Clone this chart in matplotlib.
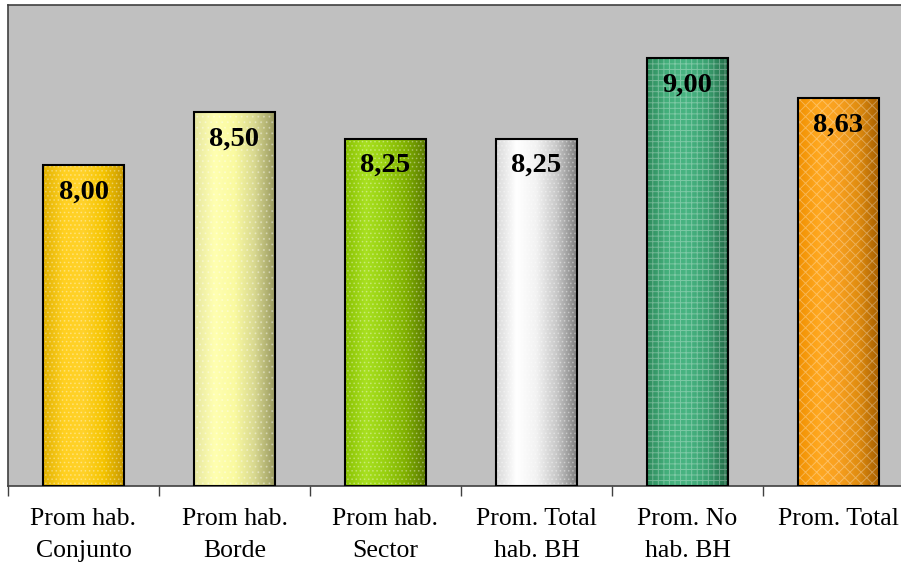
import numpy as np
import matplotlib.pyplot as plt
from matplotlib.colors import LinearSegmentedColormap

categorias = ["Prom hab.\nConjunto", "Prom hab.\nBorde", "Prom hab.\nSector",
              "Prom. Total\nhab. BH", "Prom. No\nhab. BH", "Prom. Total"]
valores = [8.00, 8.50, 8.25, 8.25, 9.00, 8.63]
etiquetas = ["8,00", "8,50", "8,25", "8,25", "9,00", "8,63"]
base = 5.0

# degradados horizontales de cada barra (izquierda -> derecha)
degradados = [
    ["#e0b000", "#ffd020", "#ffd22a", "#f5c400", "#c89a00"],
    ["#e6e6a0", "#ffffb0", "#fafaa0", "#d8d890", "#9a9a60"],
    ["#88c000", "#a8e020", "#98d010", "#80b000", "#5a7a00"],
    ["#d8d8d8", "#ffffff", "#f2f2f2", "#c8c8c8", "#808080"],
    ["#2e8a5c", "#44b07c", "#48b482", "#3aa070", "#226a46"],
    ["#f09000", "#ffa820", "#f8a020", "#e08c10", "#a86000"],
]
tramas = ["....", "...", "....", "....", "+++", "xxx"]

fig = plt.figure(figsize=(9.01, 5.64), dpi=100)
ax = fig.add_axes([8 / 901, 78 / 564, 906 / 901, 481 / 564])
ax.set_facecolor("#c0c0c0")

x = np.arange(len(valores))
alturas = [v - base for v in valores]
ancho = 0.53
barras = ax.bar(x, alturas, width=ancho, bottom=base, color="none", edgecolor="none", zorder=2)

for i, b in enumerate(barras):
    cmap = LinearSegmentedColormap.from_list("g%d" % i, degradados[i])
    grad = np.linspace(0, 1, 200).reshape(1, -1)
    im = ax.imshow(grad, cmap=cmap, aspect="auto", zorder=2,
                   extent=[b.get_x(), b.get_x() + b.get_width(), base, valores[i]])
    im.set_clip_path(b)

plt.rcParams["hatch.linewidth"] = 0.7
for i in range(len(valores)):
    ax.bar(x[i], alturas[i], width=ancho, bottom=base, color="none",
           edgecolor=(1, 1, 1, 0.3), linewidth=0, hatch=tramas[i], zorder=3)
ax.bar(x, alturas, width=ancho, bottom=base, color="none", edgecolor="black",
       linewidth=1.5, zorder=4)

for i, v in enumerate(valores):
    ax.annotate(etiquetas[i], (x[i], v), xytext=(0, -27), textcoords="offset pixels",
                ha="center", va="center", fontsize=20.5, fontweight="bold",
                family="Liberation Serif", zorder=5)

ax.set_xlim(-0.5, 5.5)
ax.set_ylim(base, 9.5)
ax.set_yticks([])
ax.set_xticks(x)
ax.set_xticklabels(categorias, family="Liberation Serif", fontsize=18.5, linespacing=1.55)
ax.set_xticks(np.arange(-0.5, 6, 1), minor=True)
ax.tick_params(axis="x", which="major", length=0, pad=16)
ax.tick_params(axis="x", which="minor", length=7, width=1, color="#404040")
for lado in ["left", "bottom", "top", "right"]:
    ax.spines[lado].set_color("#404040")
    ax.spines[lado].set_linewidth(1.2)

fig.savefig("out.png", dpi=100)
